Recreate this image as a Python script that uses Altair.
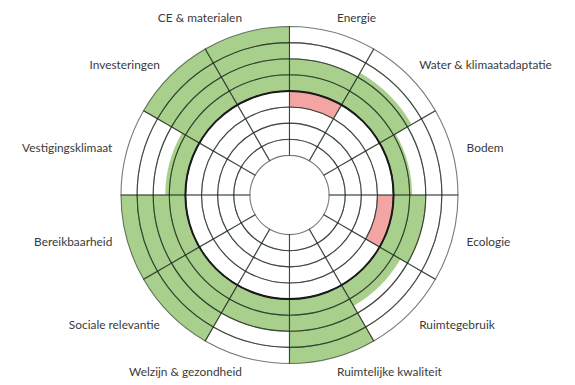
import altair as alt
import pandas as pd

categories = [
    "Energie", "Water & klimaatadaptatie", "Bodem", "Ecologie",
    "Ruimtegebruik", "Ruimtelijke kwaliteit", "Welzijn & gezondheid",
    "Sociale relevantie", "Bereikbaarheid", "Vestigingsklimaat",
    "Investeringen", "CE & materialen",
]
# rings of green beyond the thick (norm) circle
green_values = [2, 2.3, 1.15, 2, 1.5, 4, 2, 4, 4, 1.25, 4, 4]
# rings of red shortfall inside the thick circle
red_values = [1, 0, 0, 1, 0, 0, 0, 0, 0, 0, 0, 0]
n_rings = 8
norm_ring = 4

rows = []
for i, (c, g, r) in enumerate(zip(categories, green_values, red_values)):
    rows.append(dict(cat=c, start=i, end=i + 1, mid=i + 0.5,
                     g0=norm_ring, g1=norm_ring + g,
                     r0=norm_ring - r, r1=norm_ring, red=r,
                     side="right" if i < 6 else "left"))
df = pd.DataFrame(rows)

grid = pd.DataFrame([dict(start=i, end=i + 1, k0=k, k1=k + 1)
                     for i in range(len(categories)) for k in range(n_rings)])

theta_scale = alt.Scale(domain=[0, len(categories)])
rad_scale = alt.Scale(type="linear", domain=[0, n_rings], range=[40, 170], zero=False)

green = alt.Chart(df).mark_arc(color="#a8d08c").encode(
    theta=alt.Theta("start:Q", scale=theta_scale, stack=False),
    theta2="end:Q",
    radius=alt.Radius("g0:Q", scale=rad_scale),
    radius2="g1:Q",
)

red = alt.Chart(df).transform_filter("datum.red > 0").mark_arc(color="#f2a5a2").encode(
    theta=alt.Theta("start:Q", scale=theta_scale, stack=False),
    theta2="end:Q",
    radius=alt.Radius("r0:Q", scale=rad_scale),
    radius2="r1:Q",
)

cells = alt.Chart(grid).mark_arc(fill="transparent", stroke="#1f2a1f",
                                 strokeWidth=1.1, strokeOpacity=0.62).encode(
    theta=alt.Theta("start:Q", scale=theta_scale, stack=False),
    theta2="end:Q",
    radius=alt.Radius("k0:Q", scale=rad_scale),
    radius2="k1:Q",
)

norm = alt.Chart(alt.Data(values=[{}])).mark_arc(
    fill="transparent", stroke="#1a1a1a", strokeWidth=2
).encode(
    theta=alt.datum(0, scale=theta_scale),
    theta2=alt.datum(len(categories)),
    radius=alt.datum(norm_ring, scale=rad_scale),
    radius2=alt.datum(norm_ring),
)

label_font = dict(font="Lato", fontSize=12, color="#3a3a3a", baseline="middle", radius=185)

labels_right = alt.Chart(df).transform_filter("datum.side == 'right'").mark_text(
    align="left", **label_font
).encode(
    theta=alt.Theta("mid:Q", scale=theta_scale, stack=False),
    text="cat:N",
)
labels_left = alt.Chart(df).transform_filter("datum.side == 'left'").mark_text(
    align="right", **label_font
).encode(
    theta=alt.Theta("mid:Q", scale=theta_scale, stack=False),
    text="cat:N",
)

chart = alt.layer(green, red, cells, norm, labels_right, labels_left).properties(
    width=560, height=374,
    padding={"left": 4, "top": 0, "right": 0, "bottom": 0},
    background="white",
).configure_view(stroke=None)

chart.save("out.html", embed_options={"renderer": "svg", "actions": False})
